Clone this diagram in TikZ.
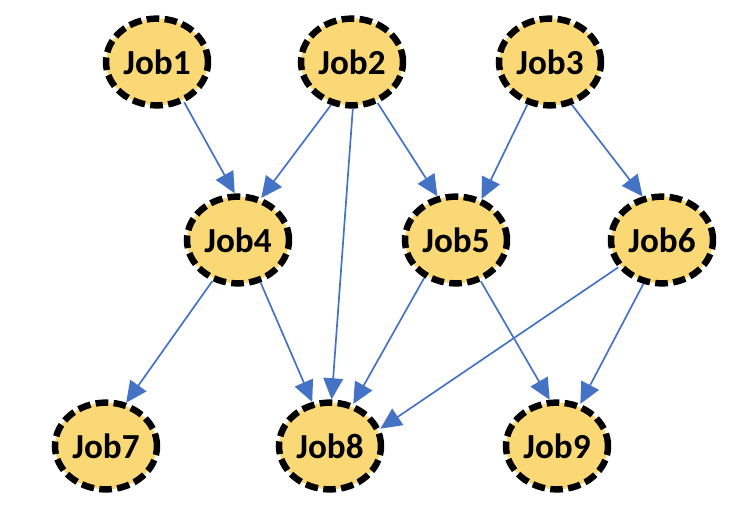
\documentclass[tikz,border=0pt]{standalone}
\usepackage{fontspec}
\setmainfont{Carlito}
\usetikzlibrary{shapes.geometric,arrows.meta}
\definecolor{jobfill}{RGB}{250,216,118}
\definecolor{depblue}{RGB}{68,114,196}
\begin{document}
\begin{tikzpicture}[x=0.025cm, y=-0.025cm,
    job/.style={ellipse, draw=black, fill=jobfill, line width=4.6pt,
        dash pattern=on 9pt off 3.8pt, minimum width=2.55cm, minimum height=2.17cm,
        inner sep=0pt, font=\fontsize{25}{30}\selectfont\bfseries},
    dep/.style={draw=depblue, line width=1.2pt, -{Triangle[length=15pt, width=14pt]}}]
            \useasboundingbox (0, 0) rectangle (752, 506);
            \node[job](1) at (157, 62) {Job1};
            \node[job](2) at (352, 62) {Job2};
            \node[job](3) at (550, 62) {Job3};
            \node[job](4) at (238, 240) {Job4};
            \node[job](5) at (456, 240) {Job5};
            \node[job](6) at (662, 240) {Job6};
            \node[job](7) at (106, 446) {Job7};
            \node[job](8) at (330, 446) {Job8};
            \node[job](9) at (557, 446) {Job9};
            \path[] (1.-56) edge[dep] (4.94) (2.-116) edge[dep] (4.61) (2.-58) edge[dep] (5.113);
            \path[] (2.-89) edge[dep] (8.88) (3.-118) edge[dep] (5.58) (3.-63) edge[dep] (6.114);
            \path[] (4.-122) edge[dep] (7.65) (4.-62) edge[dep] (8.112) (5.-130) edge[dep] (8.61);
            \path[] (5.-59) edge[dep] (9.99) (6.-148) edge[dep] (8.19) (6.-113) edge[dep] (9.61);
        \end{tikzpicture}
\end{document}
